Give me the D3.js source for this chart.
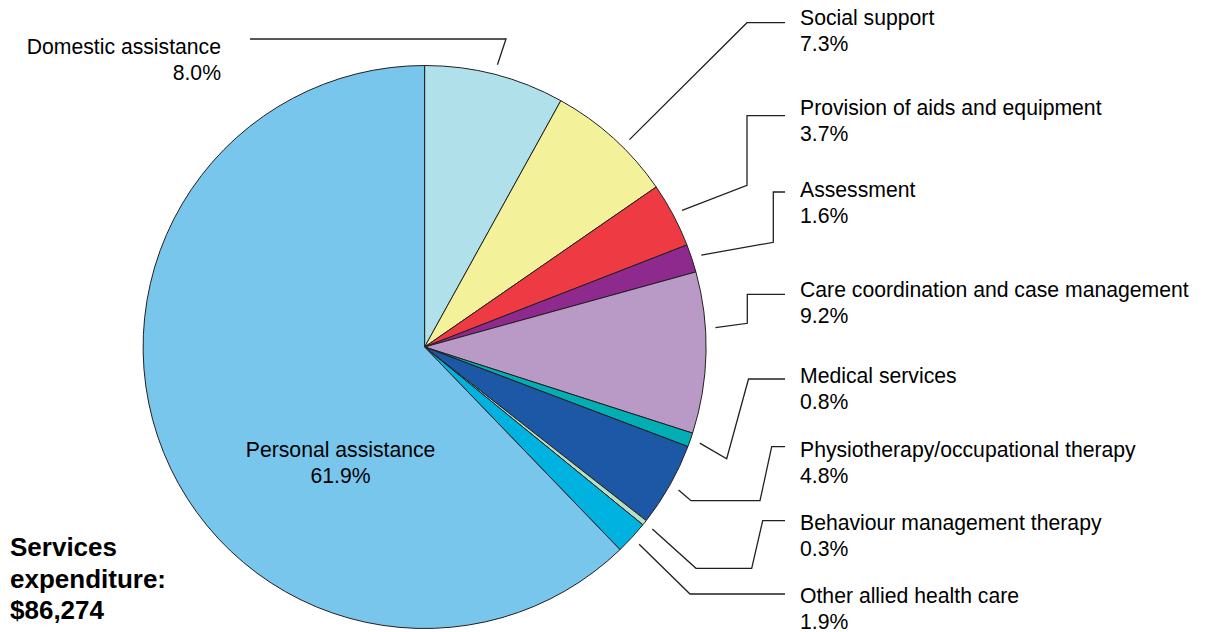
<!DOCTYPE html>
<html>
<head>
<meta charset="utf-8">
<script src="https://cdn.jsdelivr.net/npm/d3@7"></script>
<style>
  body { margin: 0; background: #fff; }
  text { font-family: "Liberation Sans", Arial, sans-serif; fill: #000; }
</style>
</head>
<body>
<div id="chart"></div>
<script>
// slice data, clockwise from 12 o'clock
const categories = [
  "Domestic assistance",
  "Social support",
  "Provision of aids and equipment",
  "Assessment",
  "Care coordination and case management",
  "Medical services",
  "Physiotherapy/occupational therapy",
  "Behaviour management therapy",
  "Other allied health care",
  "Personal assistance"
];
const shares = [8.0, 7.3, 3.7, 1.6, 9.2, 0.8, 4.8, 0.3, 1.9, 61.9];
const colours = ["#b0e0ea", "#f3f29b", "#ee3a43", "#8e2a8e", "#b99ac7",
                 "#00aeb4", "#1d58a7", "#b6dfc5", "#00b2e0", "#79c6ed"];
const totalLabel = ["Services", "expenditure:", "$86,274"];

// label layout (not data): which side, baseline y, leader elbows
const labelX = 800;
const labelLayout = [
  {side: "left", y: 54, nudge: 0, pts: [[506, 39], [250, 39]]},
  {side: "right", y: 25, nudge: 2.5, pts: [[747, 22.7], [785, 22.7]]},
  {side: "right", y: 115, nudge: 0, pts: [[747, 185.3], [747, 115.7], [785, 115.7]]},
  {side: "right", y: 197, nudge: 0, pts: [[773.3, 242.3], [773.3, 192], [785, 192]]},
  {side: "right", y: 297, nudge: -5, pts: [[747.3, 323.3], [747.3, 294.3], [785, 294.3]]},
  {side: "right", y: 383, nudge: 0, pts: [[726.7, 458.7], [748.5, 379], [785, 379]]},
  {side: "right", y: 457, nudge: 0, pts: [[691, 500.7], [760, 500.7], [771.7, 446.7], [785, 446.7]]},
  {side: "right", y: 530, nudge: 0, pts: [[696, 568.3], [751.7, 568.3], [762.7, 520.7], [785, 520.7]]},
  {side: "right", y: 603, nudge: 0, pts: [[690, 594], [785, 594]]},
  {side: "inside", y: 457, nudge: 0, pts: []}
];

const width = 1205, height = 632;
const cx = 424.6, cy = 347, radius = 281.5;

const svg = d3.select("#chart").append("svg")
  .attr("width", width)
  .attr("height", height);

const data = categories.map((c, i) => ({name: c, value: shares[i], colour: colours[i], layout: labelLayout[i]}));

const pie = d3.pie()
  .sort(null)
  .value(d => d.value);

const arcs = pie(data);

const arc = d3.arc()
  .innerRadius(0)
  .outerRadius(radius);

const g = svg.append("g")
  .attr("transform", "translate(" + cx + "," + cy + ")");

g.selectAll("path.slice")
  .data(arcs)
  .enter().append("path")
  .attr("class", "slice")
  .attr("d", arc)
  .attr("fill", d => d.data.colour)
  .attr("stroke", "#231f20")
  .attr("stroke-width", 1)
  .attr("stroke-linejoin", "round");

// leader lines
const line = d3.line();
arcs.forEach(function(d) {
  let lay = d.data.layout;
  if (lay.side == "inside") return;
  let a = (d.startAngle + d.endAngle) / 2 + lay.nudge * Math.PI / 180;
  let r = radius + 10;
  let start = [cx + Math.sin(a) * r, cy - Math.cos(a) * r];
  svg.append("path")
    .attr("d", line([start].concat(lay.pts)))
    .attr("fill", "none")
    .attr("stroke", "#231f20")
    .attr("stroke-width", 1.3);
});

// labels
arcs.forEach(function(d) {
  let lay = d.data.layout;
  let pct = d3.format(".1f")(d.data.value) + "%";
  let x, anchor, y = lay.y;
  if (lay.side == "right") { x = labelX; anchor = "start"; }
  else if (lay.side == "left") { x = 221; anchor = "end"; }
  else {
    // inside the big slice
    x = cx - 84;
    anchor = "middle";
  }
  let t = svg.append("text")
    .attr("x", x)
    .attr("y", y)
    .attr("text-anchor", anchor)
    .style("font-size", "21.2px");
  t.append("tspan").attr("x", x).text(d.data.name);
  t.append("tspan").attr("x", x).attr("dy", 26).text(pct);
});

// total
const tot = svg.append("text")
  .attr("x", 10)
  .attr("y", 556)
  .style("font-size", "26px")
  .style("font-weight", "bold");
totalLabel.forEach(function(s, i) {
  tot.append("tspan").attr("x", 10).attr("dy", i == 0 ? 0 : 31.5).text(s);
});
</script>
</body>
</html>
